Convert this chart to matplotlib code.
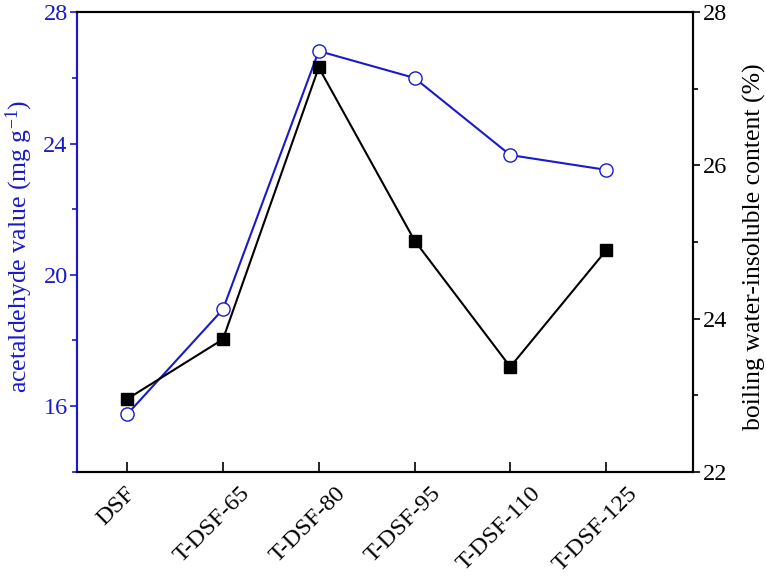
import matplotlib
matplotlib.use("Agg")
import matplotlib.pyplot as plt
from matplotlib import font_manager as fm
from matplotlib import transforms as mtrans
from matplotlib.ticker import MultipleLocator

serif = None
for f in fm.findSystemFonts():
    n = f.lower().replace(' ', '')
    if 'liberationserif-regular' in n:
        fm.fontManager.addfont(f)
        serif = fm.FontProperties(fname=f).get_name()
    elif 'liberationserif-italic' in n:
        fm.fontManager.addfont(f)
if serif is None:
    serif = 'DejaVu Serif'

plt.rcParams['font.family'] = [serif, 'DejaVu Serif']
plt.rcParams['mathtext.fontset'] = 'custom'
plt.rcParams['mathtext.rm'] = serif
plt.rcParams['mathtext.it'] = serif + ':italic'

categories = ["DSF", "T-DSF-65", "T-DSF-80", "T-DSF-95", "T-DSF-110", "T-DSF-125"]
acetaldehyde = [15.75, 18.95, 26.82, 26.0, 23.65, 23.2]
insoluble = [22.95, 23.73, 27.28, 25.02, 23.37, 24.89]

blue = "#1a1acc"

fig = plt.figure(figsize=(7.66, 5.76), dpi=100)
ax = fig.add_axes([0.101, 0.181, 0.804, 0.7976])
ax2 = ax.twinx()

x = list(range(len(categories)))
ax.plot(x, acetaldehyde, color=blue, lw=1.5, marker='o', ms=9.5,
        mfc='white', mec=blue, mew=1.0, zorder=3)
ax2.plot(x, insoluble, color='black', lw=1.5, marker='s', ms=8.5,
         mfc='black', mec='black', zorder=3)

ax.set_xlim(-0.52, 5.91)
ax.set_ylim(14, 28)
ax2.set_ylim(22, 28)

ax.set_xticks(x)
ax.set_xticklabels(categories, rotation=45, ha='center', fontsize=17.5)
ax.tick_params(axis='x', direction='in', length=7, width=1.2, pad=8)
shift = mtrans.ScaledTranslation(-11 / 100, 0, fig.dpi_scale_trans)
for lab in ax.get_xticklabels():
    lab.set_transform(lab.get_transform() + shift)

ax.yaxis.set_major_locator(MultipleLocator(4))
ax.yaxis.set_minor_locator(MultipleLocator(2))
ax.tick_params(axis='y', which='major', direction='out', length=5, width=1.2,
               colors=blue, labelsize=17.5, labelcolor=blue, pad=2)
ax.tick_params(axis='y', which='minor', direction='out', length=3.5, width=1.2, colors=blue)

ax2.yaxis.set_major_locator(MultipleLocator(2))
ax2.yaxis.set_minor_locator(MultipleLocator(1))
ax2.tick_params(axis='y', which='major', direction='out', length=5, width=1.2,
                labelsize=17.5, pad=2)
ax2.tick_params(axis='y', which='minor', direction='out', length=3.5, width=1.2)

for a in (ax, ax2):
    for s in a.spines.values():
        s.set_linewidth(1.5)
ax2.spines['left'].set_color(blue)
ax.spines['left'].set_color(blue)

ax.set_ylabel(r'acetaldehyde value (mg g$^{-1}$)', color=blue, fontsize=18.5)
ax.yaxis.set_label_coords(-0.068, 0.49)
ax2.set_ylabel('boiling water-insoluble content (%)', fontsize=18.5)
ax2.yaxis.set_label_coords(1.081, 0.49)

fig.savefig("out.png", dpi=100)
